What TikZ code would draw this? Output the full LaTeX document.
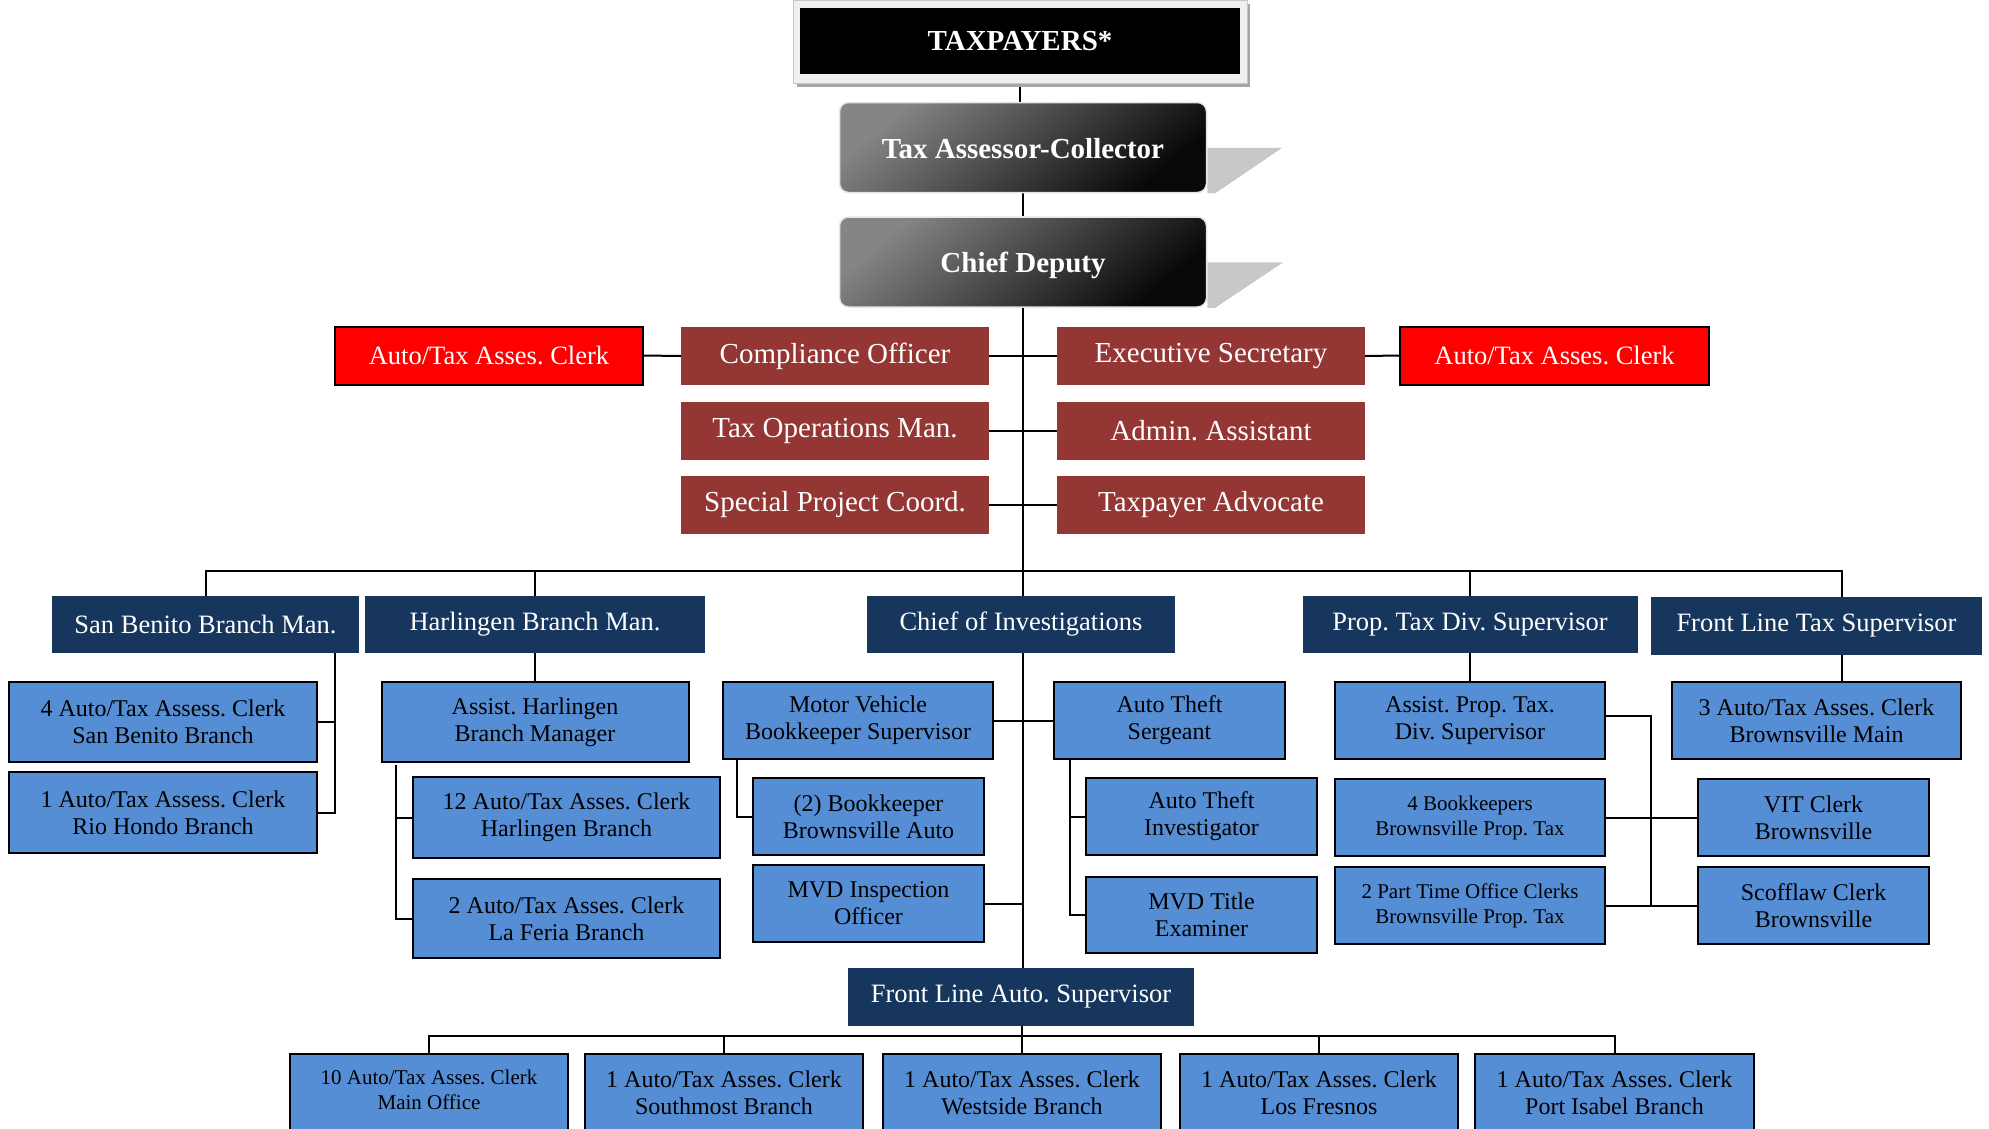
\documentclass[tikz,border=0pt]{standalone}
\usepackage{fontspec}
\setmainfont{Liberation Serif}
\usetikzlibrary{calc,backgrounds}
\definecolor{navy}{HTML}{17365D}
\definecolor{brick}{HTML}{943634}
\definecolor{sky}{HTML}{558ED5}
\definecolor{shadowgray}{HTML}{C8C8C8}
\frenchspacing

\begin{document}
\begin{tikzpicture}[x=1pt,y=-1pt,
  conn/.style={draw=black,line width=2pt},
  headbox/.style={rounded corners=9pt, draw=black!10, line width=1.5pt,
    top color=black!48, bottom color=black!97, shading angle=40,
    text=white, font=\fontsize{29}{34}\selectfont\bfseries,
    minimum width=367pt, minimum height=90pt, inner sep=0pt},
  staffbox/.style={fill=brick, text=white, font=\fontsize{29}{33}\selectfont,
    minimum width=308pt, minimum height=58pt, inner sep=0pt},
  clerkbox/.style={fill=red, draw=black, line width=2pt, text=white,
    font=\fontsize{26.5}{30}\selectfont, minimum height=58pt, inner sep=0pt},
  leadbox/.style={fill=navy, text=white, font=\fontsize{26.5}{30}\selectfont,
    minimum height=57pt, inner sep=0pt},
  unitbox/.style={fill=sky, draw=black, line width=2pt, align=center,
    font=\fontsize{24}{27}\selectfont, minimum height=77pt, inner sep=0pt},
  smallunit/.style={unitbox, font=\fontsize{21}{25}\selectfont},
  basebox/.style={fill=sky, draw=black, line width=2pt, minimum width=278pt,
    minimum height=100pt, inner sep=0pt},
  basetext/.style={align=center, font=\fontsize{24}{27}\selectfont, inner sep=0pt},
  shade/.style={fill=shadowgray}
]
\useasboundingbox (0,0) rectangle (1989,1128);

% top of the hierarchy
\fill[black!35] (797,4) rectangle (1250,87);
\filldraw[fill=black!6, draw=black!22, line width=1pt] (793,0) rectangle (1247,83);
\node[fill=black, text=white, font=\fontsize{29}{34}\selectfont\bfseries,
  minimum width=440pt, minimum height=66pt, inner sep=0pt] (tp) at (1020,41) {TAXPAYERS*};
\node[headbox, text height=22pt, text depth=0pt] (tac) at (1023,147.5) {Tax Assessor-Collector};
\node[headbox, text height=20pt, text depth=0pt] (cd) at (1023,262) {Chief Deputy};

% direct staff of the chief deputy
\node[clerkbox, minimum width=308pt] (redL) at (489,355.5) {Auto/Tax Asses. Clerk};
\node[staffbox] (comp) at (835,356) {Compliance Officer};
\node[staffbox] (ops) at (835,431) {Tax Operations Man.};
\node[staffbox] (spc) at (835,505) {Special Project Coord.};
\node[staffbox] (exec) at (1211,356) {Executive Secretary};
\node[staffbox] (admin) at (1211,431) {Admin. Assistant};
\node[staffbox] (adv) at (1211,505) {Taxpayer Advocate};
\node[clerkbox, minimum width=309pt] (redR) at (1554.5,355.5) {Auto/Tax Asses. Clerk};

% division heads
\node[leadbox, minimum width=307pt] (sb) at (205.5,624.5) {San Benito Branch Man.};
\node[leadbox, minimum width=340pt] (hb) at (535,624.5) {Harlingen Branch Man.};
\node[leadbox, minimum width=308pt] (ci) at (1021,624.5) {Chief of Investigations};
\node[leadbox, minimum width=335pt] (pt) at (1470,624.5) {Prop. Tax Div. Supervisor};
\node[leadbox, minimum width=331pt, minimum height=58pt] (flt) at (1816.5,626) {Front Line Tax Supervisor};

% San Benito branch
\node[unitbox, minimum width=308pt, minimum height=80pt] (sb4) at (163,722) {4 Auto/Tax Assess. Clerk\\San Benito Branch};
\node[unitbox, minimum width=308pt, minimum height=81pt] (sb1) at (163,812.5) {1 Auto/Tax Assess. Clerk\\Rio Hondo Branch};

% Harlingen branch
\node[unitbox, minimum width=307pt, minimum height=80pt] (ha) at (535,722) {Assist. Harlingen\\Branch Manager};
\node[unitbox, minimum width=307pt, minimum height=81pt] (h12) at (566.5,817.5) {12 Auto/Tax Asses. Clerk\\Harlingen Branch};
\node[unitbox, minimum width=307pt, minimum height=79pt] (hlf) at (566.5,918.5) {2 Auto/Tax Asses. Clerk\\La Feria Branch};

% investigations
\node[unitbox, minimum width=270pt] (mv) at (858,720.5) {Motor Vehicle\\Bookkeeper Supervisor};
\node[unitbox, minimum width=231pt] (ats) at (1169.5,720.5) {Auto Theft\\Sergeant};
\node[unitbox, minimum width=231pt] (bk2) at (868.5,816.5) {(2) Bookkeeper\\Brownsville Auto};
\node[unitbox, minimum width=231pt] (mvdi) at (868.5,903.5) {MVD Inspection\\Officer};
\node[unitbox, minimum width=231pt] (ati) at (1201.5,816.5) {Auto Theft\\Investigator};
\node[unitbox, minimum width=231pt, minimum height=76pt] (mvdt) at (1201.5,915) {MVD Title\\Examiner};

% property tax division
\node[unitbox, minimum width=270pt] (apt) at (1470,720.5) {Assist. Prop. Tax.\\Div. Supervisor};
\node[smallunit, minimum width=270pt] (bk4) at (1470,817.5) {4 Bookkeepers\\Brownsville Prop. Tax};
\node[smallunit, minimum width=270pt] (ptc) at (1470,905.5) {2 Part Time Office Clerks\\Brownsville Prop. Tax};

% front line tax
\node[unitbox, minimum width=289pt] (bm) at (1816.5,720.5) {3 Auto/Tax Asses. Clerk\\Brownsville Main};
\node[unitbox, minimum width=231pt] (vit) at (1813.5,817.5) {VIT Clerk\\Brownsville};
\node[unitbox, minimum width=231pt] (scf) at (1813.5,905.5) {Scofflaw Clerk\\Brownsville};

% front line auto and its branches
\node[leadbox, minimum width=346pt, minimum height=58pt] (fla) at (1021,997) {Front Line Auto. Supervisor};
\node[basebox] (b1) at (429,1104) {};
\node[basebox] (b2) at (724,1104) {};
\node[basebox] (b3) at (1022,1104) {};
\node[basebox] (b4) at (1319,1104) {};
\node[basebox, minimum width=279pt] (b5) at (1614.5,1104) {};
\node[basetext, font=\fontsize{21}{25}\selectfont] (b1t) at (429,1090) {10 Auto/Tax Asses. Clerk\\Main Office};
\node[basetext] (b2t) at (724,1093) {1 Auto/Tax Asses. Clerk\\Southmost Branch};
\node[basetext] (b3t) at (1022,1093) {1 Auto/Tax Asses. Clerk\\Westside Branch};
\node[basetext] (b4t) at (1319,1093) {1 Auto/Tax Asses. Clerk\\Los Fresnos};
\node[basetext] (b5t) at (1614.5,1093) {1 Auto/Tax Asses. Clerk\\Port Isabel Branch};

\begin{scope}[on background layer]
  % cast shadows of the two head boxes
  \fill[shade] ($(tac.north east)+(0,46)$) -- ++(75,0) -- ($(tac.south east)+(8,0)$) -- (tac.south east) -- cycle;
  \fill[shade] ($(cd.north east)+(0,46)$) -- ++(76,0) -- ($(cd.south east)+(8,0)$) -- (cd.south east) -- cycle;

  \coordinate (bus) at (1022,571);
  \coordinate (lbus) at (1022,1036);
  \coordinate (fltx) at (1842,571);
  \coordinate (sbx) at (335,653);
  \coordinate (hx) at (396,765);
  \coordinate (mvx) at (737,760);
  \coordinate (atx) at (1070,760);
  \coordinate (ptx) at (1651,716);

  \draw[conn] (tp.south) -- (tp.south |- tac.north);
  \draw[conn] (tac.south) -- (cd.north);
  \draw[conn] (cd.south) -- (cd.south |- fla.north);
  \draw[conn] (redL.east) -- (comp.west);
  \draw[conn] (comp.east) -- (exec.west);
  \draw[conn] (ops.east) -- (admin.west);
  \draw[conn] (spc.east) -- (adv.west);
  \draw[conn] (exec.east) -- (redR.west);

  \draw[conn] (sb.north) -- (sb.north |- bus) -- (bus -| fltx) -- (fltx |- flt.north);
  \draw[conn] (hb.north) -- (hb.north |- bus);
  \draw[conn] (pt.north) -- (pt.north |- bus);

  \draw[conn] (sb.south -| sbx) -- (sbx |- sb1.east) -- (sb1.east);
  \draw[conn] (sb4.east) -- (sb4.east -| sbx);

  \draw[conn] (hb.south) -- (ha.north);
  \draw[conn] (hx) -- (hx |- hlf.west) -- (hlf.west);
  \draw[conn] (h12.west) -- (h12.west -| hx);

  \draw[conn] (mv.east) -- (ats.west);
  \draw[conn] (mv.south -| mvx) -- (mvx |- bk2.west) -- (bk2.west);
  \draw[conn] (mvdi.east) -- (mvdi.east -| cd.south);
  \draw[conn] (ats.south -| atx) -- (atx |- mvdt.west) -- (mvdt.west);
  \draw[conn] (ati.west) -- (ati.west -| atx);

  \draw[conn] (pt.south) -- (apt.north);
  \draw[conn] (apt.east |- ptx) -- (ptx) -- (ptx |- scf.west);
  \draw[conn] (bk4.east) -- (vit.west);
  \draw[conn] (ptc.east) -- (scf.west);
  \draw[conn] (fltx |- flt.south) -- (fltx |- bm.north);

  \draw[conn] (fla.south -| lbus) -- (b3.north);
  \draw[conn] (b1.north) -- (b1.north |- lbus) -- (b5.north |- lbus) -- (b5.north);
  \draw[conn] (b2.north) -- (b2.north |- lbus);
  \draw[conn] (b4.north) -- (b4.north |- lbus);
\end{scope}
\end{tikzpicture}
\end{document}
